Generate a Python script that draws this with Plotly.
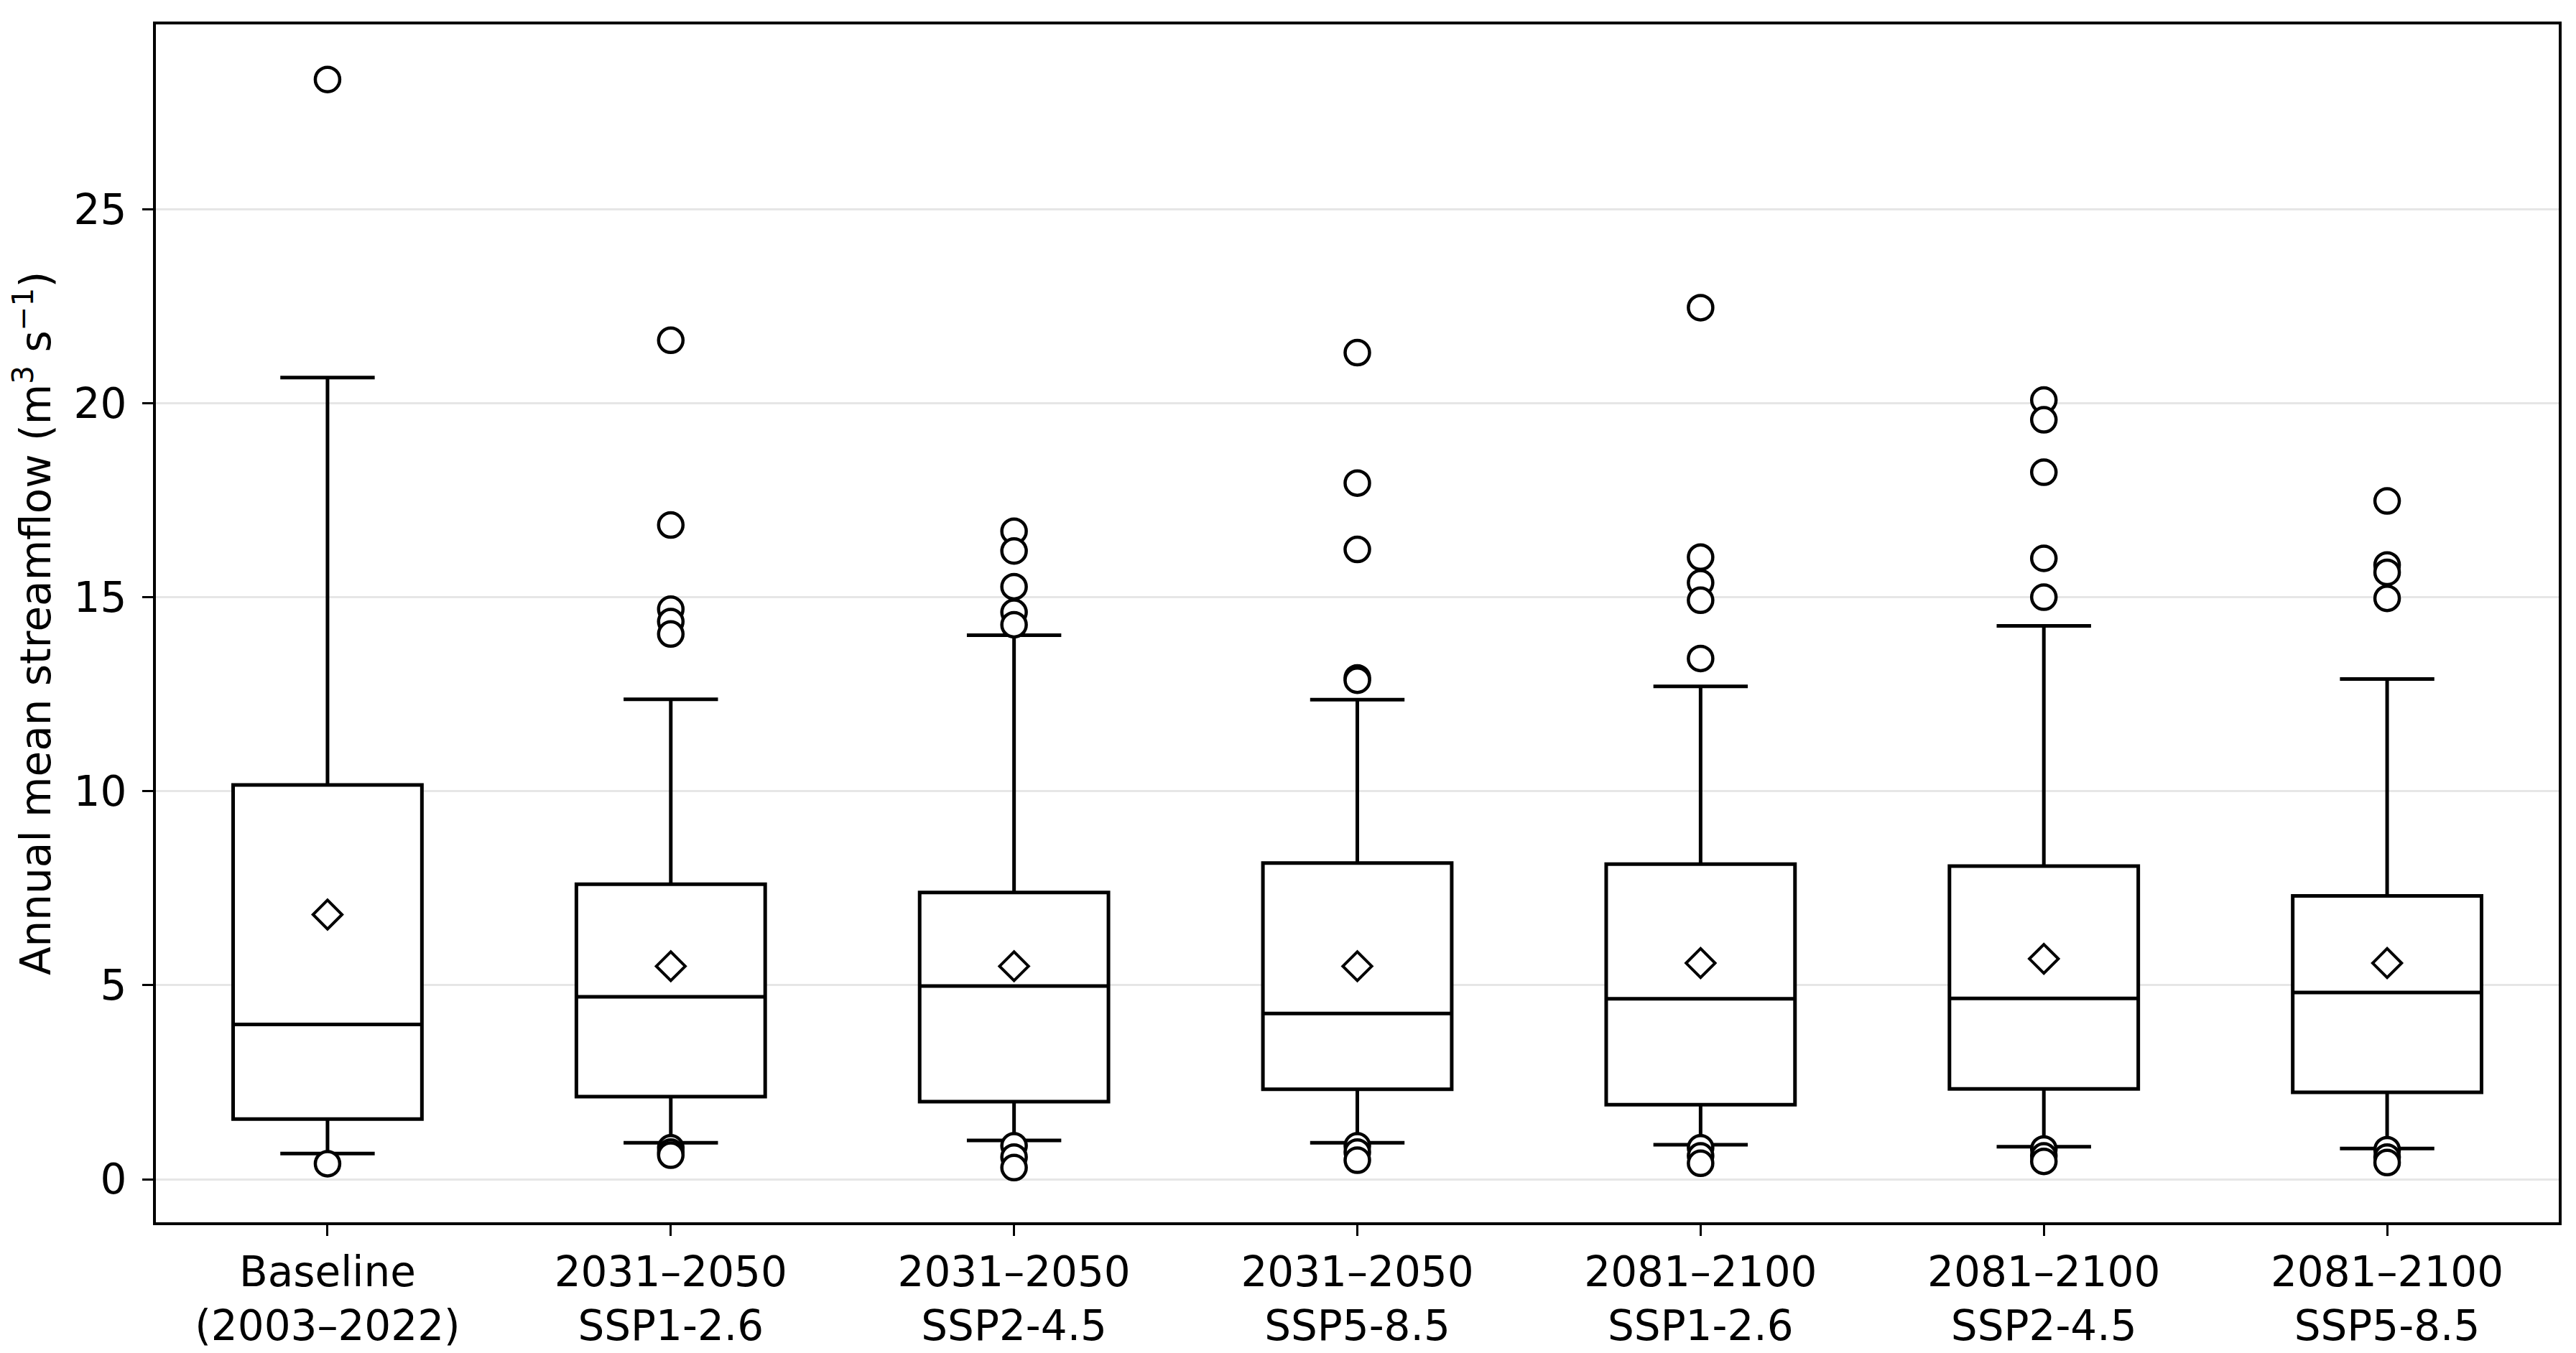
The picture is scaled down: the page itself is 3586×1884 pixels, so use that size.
import plotly.graph_objects as go

categories = [
    "Baseline<br>(2003–2022)",
    "2031–2050<br>SSP1-2.6",
    "2031–2050<br>SSP2-4.5",
    "2031–2050<br>SSP5-8.5",
    "2081–2100<br>SSP1-2.6",
    "2081–2100<br>SSP2-4.5",
    "2081–2100<br>SSP5-8.5",
]

q1 = [1.55, 2.13, 2.00, 2.32, 1.92, 2.33, 2.24]
median = [3.99, 4.70, 4.98, 4.27, 4.65, 4.66, 4.81]
q3 = [10.16, 7.60, 7.39, 8.15, 8.12, 8.07, 7.30]
lower_whisker = [0.66, 0.94, 1.00, 0.94, 0.89, 0.84, 0.79]
upper_whisker = [20.66, 12.37, 14.02, 12.36, 12.70, 14.26, 12.89]
means = [6.82, 5.49, 5.49, 5.49, 5.57, 5.68, 5.57]

outliers_baseline = [28.34, 0.40]
outliers_2031_ssp126 = [21.62, 16.86, 14.69, 14.37, 14.05, 0.81, 0.70, 0.62]
outliers_2031_ssp245 = [16.70, 16.19, 15.27, 14.61, 14.29, 0.86, 0.57, 0.30]
outliers_2031_ssp585 = [21.30, 17.94, 16.23, 12.92, 12.86, 0.86, 0.70, 0.49]
outliers_2081_ssp126 = [22.46, 16.03, 15.37, 14.92, 13.42, 0.81, 0.60, 0.41]
outliers_2081_ssp245 = [20.08, 19.57, 18.22, 16.00, 15.00, 0.78, 0.60, 0.46]
outliers_2081_ssp585 = [17.48, 15.83, 15.64, 14.97, 0.76, 0.57, 0.43]

outlier_groups = [
    outliers_baseline,
    outliers_2031_ssp126,
    outliers_2031_ssp245,
    outliers_2031_ssp585,
    outliers_2081_ssp126,
    outliers_2081_ssp245,
    outliers_2081_ssp585,
]

y_ticks = [0, 5, 10, 15, 20, 25]

FONT = "DejaVu Sans"
FS = 58

fig = go.Figure()

fig.add_trace(go.Box(
    x=categories,
    q1=q1,
    median=median,
    q3=q3,
    lowerfence=lower_whisker,
    upperfence=upper_whisker,
    boxpoints=False,
    fillcolor="white",
    line=dict(color="black", width=5),
    whiskerwidth=0.5,
    width=0.55,
    showlegend=False,
    hoverinfo="skip",
))

ox, oy = [], []
for cat, vals in zip(categories, outlier_groups):
    for v in vals:
        ox.append(cat)
        oy.append(v)

fig.add_trace(go.Scatter(
    x=ox, y=oy, mode="markers",
    marker=dict(symbol="circle", size=34, color="white",
                line=dict(color="black", width=4.5)),
    showlegend=False,
))

fig.add_trace(go.Scatter(
    x=categories, y=means, mode="markers",
    marker=dict(symbol="diamond", size=31, color="white",
                line=dict(color="black", width=4)),
    showlegend=False,
))

fig.update_layout(
    width=3586, height=1884,
    margin=dict(l=209, r=32, t=26, b=177),
    paper_bgcolor="white",
    plot_bgcolor="white",
    font=dict(family=FONT, size=FS, color="black"),
    showlegend=False,
)

fig.update_xaxes(
    type="category",
    categoryorder="array",
    categoryarray=categories,
    range=[-0.5, 6.5],
    showline=True, linecolor="black", linewidth=4, mirror=True,
    ticks="outside", ticklen=15, tickwidth=3.3, tickcolor="black",
    showgrid=False,
    tickfont=dict(family=FONT, size=FS, color="black"),
)

fig.update_yaxes(
    range=[-1.11, 29.76],
    tickvals=y_ticks,
    ticktext=[str(t) for t in y_ticks],
    showline=True, linecolor="black", linewidth=4, mirror=True,
    ticks="outside", ticklen=15, tickwidth=3.3, tickcolor="black",
    showgrid=True, gridcolor="#e6e6e6", gridwidth=2.5,
    zeroline=False,
    tickfont=dict(family=FONT, size=FS, color="black"),
    ticklabelstandoff=10,
    title=dict(text="Annual mean streamflow (m<sup>3</sup> s<sup>−1</sup>)",
               font=dict(family=FONT, size=FS, color="black"),
               standoff=20),
)

fig.write_html("out.html")
